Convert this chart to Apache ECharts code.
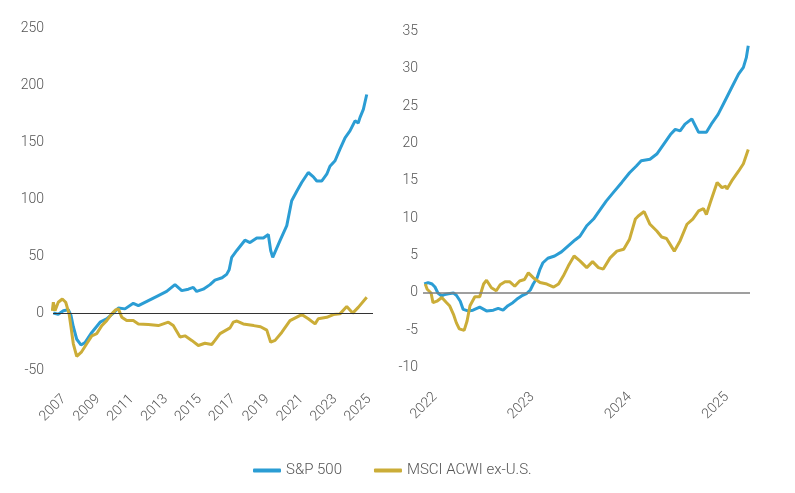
<!DOCTYPE html>
<html>
<head>
<meta charset="utf-8">
<script src="https://cdn.jsdelivr.net/npm/echarts@6/dist/echarts.min.js"></script>
<style>
  html, body { margin: 0; padding: 0; background: #fff; }
  #chart { width: 795px; height: 493px; }
</style>
</head>
<body>
<div id="chart"></div>
<script>
// left panel: since 2007
const spYearsL = [2006.37, 2006.66, 2006.96, 2007.25, 2007.41, 2007.55, 2007.75, 2008.00, 2008.24, 2008.64,
  2009.13, 2009.52, 2009.91, 2010.21, 2010.60, 2011.09, 2011.39, 2011.98, 2012.57, 2013.06,
  2013.55, 2013.95, 2014.34, 2014.63, 2014.83, 2015.22, 2015.62, 2015.91, 2016.33, 2016.60,
  2016.75, 2016.90, 2017.20, 2017.68, 2017.98, 2018.38, 2018.77, 2019.06, 2019.20, 2019.32,
  2019.75, 2020.15, 2020.44, 2020.74, 2021.03, 2021.42, 2021.72, 2021.92, 2022.21, 2022.51,
  2022.70, 2023.00, 2023.29, 2023.59, 2023.88, 2024.18, 2024.37, 2024.47, 2024.67, 2024.87];
const spValsL = [0, -1, 2, 3, -2, -12, -23, -28, -26, -17,
  -8, -5, 0, 4.5, 3.7, 8.6, 6.6, 11, 15.4, 19,
  25, 19.7, 21, 22.6, 19, 21, 25, 29, 31, 34,
  38, 49, 55, 64, 62, 66, 66, 69, 55, 49,
  63.6, 76.8, 98.7, 107, 114.7, 123.5, 119.7, 116, 116, 122,
  129, 133.8, 144, 154, 160, 168.9, 167, 171.7, 179, 192];

const acYearsL = [2006.31, 2006.37, 2006.47, 2006.66, 2006.90, 2007.10, 2007.30, 2007.41, 2007.55, 2007.75,
  2008.04, 2008.34, 2008.64, 2008.93, 2009.23, 2009.52, 2009.82, 2010.05, 2010.21, 2010.41,
  2010.70, 2011.09, 2011.39, 2011.98, 2012.57, 2013.16, 2013.45, 2013.85, 2014.14, 2014.54,
  2014.93, 2015.32, 2015.72, 2015.91, 2016.21, 2016.80, 2016.99, 2017.21, 2017.58, 2018.20,
  2018.60, 2018.97, 2019.20, 2019.46, 2019.85, 2020.34, 2021.03, 2021.42, 2021.82, 2022.01,
  2022.51, 2022.90, 2023.29, 2023.69, 2024.04, 2024.37, 2024.87];
const acValsL = [2, 9.5, 2, 9.5, 12.4, 9.5, -0.7, -12, -27, -38,
  -34, -27, -20, -18, -11, -6.6, -0.7, 2.8, 3.7, -3.7,
  -6.6, -6.6, -9.5, -10, -11, -8, -11, -21, -20, -24,
  -28.5, -26.5, -27.6, -24, -18, -13, -8, -7, -9.5, -11,
  -12, -15, -25.6, -24, -17, -6.6, -1.3, -5, -9.5, -5,
  -3.7, -1.3, -0.7, 5.7, 0, 5, 13.9];

// right panel: since 2022
const spYearsR = [2021.89, 2021.93, 2021.97, 2022.00, 2022.03, 2022.07, 2022.10, 2022.14, 2022.19, 2022.22,
  2022.26, 2022.29, 2022.34, 2022.39, 2022.46, 2022.53, 2022.60, 2022.65, 2022.70, 2022.75,
  2022.80, 2022.84, 2022.89, 2022.94, 2022.98, 2023.01, 2023.05, 2023.08, 2023.11, 2023.16,
  2023.23, 2023.30, 2023.37, 2023.44, 2023.49, 2023.56, 2023.63, 2023.70, 2023.76, 2023.83,
  2023.92, 2024.00, 2024.07, 2024.12, 2024.21, 2024.28, 2024.35, 2024.42, 2024.47, 2024.52,
  2024.57, 2024.64, 2024.71, 2024.79, 2024.84, 2024.91, 2024.98, 2025.05, 2025.12, 2025.17,
  2025.20, 2025.22];
const spValsR = [1.2, 1.4, 1.2, 0.8, 0, -0.4, -0.2, -0.1, 0, -0.3,
  -1.1, -2.2, -2.4, -2.3, -1.9, -2.4, -2.3, -2.05, -2.3, -1.7,
  -1.3, -0.85, -0.4, -0.1, 0.4, 1.2, 2.05, 3.2, 4.05, 4.65,
  4.95, 5.5, 6.3, 7.1, 7.6, 9.0, 9.9, 11.2, 12.3, 13.4,
  14.8, 16.1, 17.0, 17.7, 17.9, 18.6, 19.9, 21.2, 21.9, 21.7,
  22.6, 23.3, 21.5, 21.5, 22.6, 23.9, 25.7, 27.5, 29.3, 30.2,
  31.5, 33.1];

const acYearsR = [2021.90, 2021.92, 2021.96, 2021.98, 2022.02, 2022.07, 2022.12, 2022.15, 2022.19, 2022.22,
  2022.25, 2022.27, 2022.30, 2022.33, 2022.36, 2022.41, 2022.46, 2022.50, 2022.53, 2022.58,
  2022.63, 2022.67, 2022.72, 2022.77, 2022.82, 2022.87, 2022.92, 2022.96, 2023.01, 2023.08,
  2023.15, 2023.22, 2023.27, 2023.32, 2023.37, 2023.43, 2023.49, 2023.56, 2023.62, 2023.68,
  2023.73, 2023.80, 2023.87, 2023.94, 2024.00, 2024.06, 2024.09, 2024.15, 2024.21, 2024.28,
  2024.33, 2024.38, 2024.46, 2024.52, 2024.59, 2024.65, 2024.71, 2024.76, 2024.79, 2024.83,
  2024.90, 2024.95, 2024.99, 2025.00, 2025.05, 2025.12, 2025.17, 2025.22];
const acValsR = [1.2, 0.5, 0, -1.3, -1.1, -0.6, -1.3, -1.7, -2.85, -4.0,
  -4.8, -4.7, -5.0, -3.75, -1.7, -0.5, -0.5, 1.2, 1.7, 0.7,
  0.3, 1.1, 1.5, 1.5, 0.9, 1.6, 1.8, 2.7, 2.05, 1.4,
  1.2, 0.8, 1.2, 2.3, 3.6, 4.95, 4.3, 3.4, 4.2, 3.4,
  3.2, 4.7, 5.6, 5.85, 7.2, 9.9, 10.3, 10.9, 9.2, 8.3,
  7.5, 7.3, 5.6, 7.0, 9.2, 9.9, 11.0, 11.3, 10.5, 12.1,
  14.8, 14.1, 14.3, 13.9, 15.0, 16.3, 17.3, 19.2];

const yearTicksL = [2007, 2009, 2011, 2013, 2015, 2017, 2019, 2021, 2023, 2025];
const yearTicksR = [2022, 2023, 2024, 2025];

const SP = 'S&P 500';
const AC = 'MSCI ACWI ex-U.S.';
const blue = '#2b9dd4';
const gold = '#cbad38';
const textColor = '#555';
const font = 'Roboto, sans-serif';

const pairs = (xs, ys) => xs.map((x, i) => [x, ys[i]]);

function xAxisFor(idx, min, max, ticks) {
  return {
    type: 'value', gridIndex: idx, min: min, max: max,
    axisLine: { show: false }, axisTick: { show: false }, splitLine: { show: false },
    axisLabel: {
      customValues: ticks, rotate: 45, margin: 27,
      color: textColor, fontSize: 14, fontWeight: 300, fontFamily: font,
      formatter: v => String(Math.round(v))
    }
  };
}

function yAxisFor(idx, min, max, interval, margin) {
  return {
    type: 'value', gridIndex: idx, min: min, max: max, interval: interval,
    axisLine: { show: false }, axisTick: { show: false }, splitLine: { show: false },
    axisLabel: { color: textColor, fontSize: 14, fontWeight: 300, fontFamily: font, margin: margin }
  };
}

function zeroLine(color, width) {
  return {
    silent: true, symbol: ['none', 'none'], label: { show: false },
    lineStyle: { type: 'solid', color: color, width: width },
    emphasis: { disabled: true },
    data: [{ yAxis: 0 }]
  };
}

function lineSeries(name, color, idx, data, mark) {
  const s = {
    name: name, type: 'line', xAxisIndex: idx, yAxisIndex: idx,
    data: data, showSymbol: false, symbol: 'none',
    lineStyle: { color: color, width: 3 }, itemStyle: { color: color },
    emphasis: { disabled: true }
  };
  if (mark) s.markLine = mark;
  return s;
}

const chart = echarts.init(document.getElementById('chart'));
chart.setOption({
  animation: false,
  backgroundColor: '#fff',
  textStyle: { fontFamily: font },
  grid: [
    { left: 53, top: 28.5, width: 320, height: 341.5 },
    { left: 423, top: 31.5, width: 327, height: 336.2 }
  ],
  xAxis: [
    xAxisFor(0, 2006.35, 2025.24, yearTicksL),
    xAxisFor(1, 2021.877, 2025.238, yearTicksR)
  ],
  yAxis: [
    yAxisFor(0, -50, 250, 50, 9),
    yAxisFor(1, -10, 35, 5, 5)
  ],
  legend: {
    left: 248, top: 458,
    icon: 'roundRect', itemWidth: 28, itemHeight: 4, itemGap: 32,
    textStyle: { color: textColor, fontSize: 15, fontWeight: 300, fontFamily: font },
    data: [SP, AC]
  },
  series: [
    lineSeries(SP, blue, 0, pairs(spYearsL, spValsL), zeroLine('#333', 1)),
    lineSeries(AC, gold, 0, pairs(acYearsL, acValsL)),
    lineSeries(SP, blue, 1, pairs(spYearsR, spValsR), zeroLine('#7f7f7f', 1.5)),
    lineSeries(AC, gold, 1, pairs(acYearsR, acValsR))
  ]
});
</script>
</body>
</html>
